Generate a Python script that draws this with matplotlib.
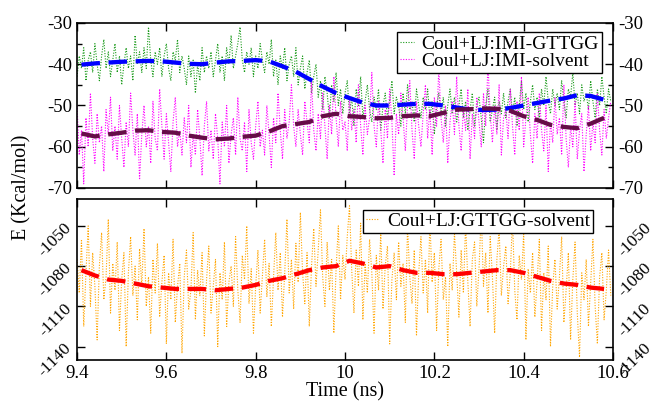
import numpy as np
import matplotlib
matplotlib.use("Agg")
import matplotlib.pyplot as plt

# ── data ───────────────────────────────────────
T0, DT = 9.40, 0.005   # raw frames, 9.400 .. 10.595 ns

imi_gttgg = [
    -43, -38, -41, -36, -44, -39, -37, -42, -35, -40, -44, -38,
    -34, -41, -37, -43, -39, -35, -42, -38, -45, -40, -36, -41,
    -38, -44, -33, -40, -37, -42, -36, -41, -31, -39, -43, -37,
    -40, -36, -43, -38, -35, -41, -44, -37, -39, -34, -42, -38,
    -41, -45, -38, -43, -39, -47, -40, -44, -36, -42, -38, -41,
    -37, -43, -39, -35, -42, -38, -44, -36, -40, -33, -41, -38,
    -35, -31, -39, -42, -37, -40, -36, -43, -38, -41, -35, -39,
    -42, -37, -40, -34, -43, -39, -45, -38, -41, -36, -44, -40,
    -38, -43, -36, -45, -41, -38, -46, -42, -39, -47, -43, -40,
    -48, -44, -51, -43, -47, -53, -45, -49, -42, -50, -46, -52,
    -47, -44, -52, -48, -55, -46, -50, -43, -53, -49, -45, -51,
    -54, -48, -51, -46, -56, -50, -47, -53, -49, -44, -52, -48,
    -50, -55, -47, -52, -45, -51, -49, -54, -46, -50, -53, -48,
    -51, -46, -53, -49, -57, -50, -47, -52, -48, -55, -50, -46,
    -52, -48, -54, -50, -46, -53, -49, -56, -51, -47, -55, -50,
    -48, -53, -59, -50, -46, -54, -51, -48, -56, -49, -52, -47,
    -53, -49, -46, -52, -48, -55, -50, -44, -51, -47, -54, -49,
    -45, -51, -48, -53, -46, -50, -43, -49, -52, -46, -50, -47,
    -51, -44, -49, -53, -46, -48, -42, -50, -47, -52, -45, -49,
    -47, -51, -44, -49, -53, -46, -50, -43, -48, -52, -46, -49]

imi_solvent = [
    -50, -62, -56, -69, -53, -60, -47, -58, -64, -52, -59, -55,
    -66, -51, -57, -48, -61, -55, -63, -50, -58, -65, -54, -60,
    -47, -56, -62, -52, -68, -57, -50, -60, -55, -64, -49, -58,
    -61, -46, -55, -63, -52, -59, -66, -54, -48, -60, -56, -62,
    -53, -59, -50, -65, -57, -62, -51, -58, -67, -55, -49, -61,
    -56, -63, -52, -58, -69, -54, -60, -50, -64, -57, -53, -62,
    -48, -58, -61, -54, -66, -51, -59, -63, -55, -49, -60, -56,
    -62, -50, -57, -65, -53, -59, -47, -56, -63, -51, -58, -54,
    -45, -55, -60, -51, -57, -62, -49, -54, -59, -44, -56, -61,
    -52, -58, -47, -55, -63, -50, -57, -43, -53, -60, -49, -56,
    -54, -61, -48, -56, -51, -59, -45, -55, -62, -50, -57, -53,
    -42, -55, -60, -49, -56, -64, -51, -58, -46, -54, -67, -52,
    -57, -47, -53, -61, -50, -44, -56, -63, -49, -55, -60, -52,
    -45, -58, -51, -62, -48, -55, -41, -53, -59, -50, -64, -54,
    -49, -57, -43, -55, -61, -51, -56, -46, -63, -52, -58, -48,
    -54, -60, -47, -55, -40, -52, -59, -50, -57, -45, -62, -53,
    -51, -58, -46, -55, -62, -49, -56, -43, -60, -53, -48, -57,
    -64, -52, -58, -47, -56, -61, -50, -66, -54, -59, -48, -57,
    -53, -62, -45, -58, -65, -55, -60, -49, -63, -56, -52, -66,
    -57, -50, -61, -54, -59, -47, -56, -62, -51, -58, -53, -49]

gttgg_solvent = [
    -1075, -1100, -1060, -1125, -1085, -1050, -1110, -1070, -1095, -1135, -1080, -1055,
    -1105, -1088, -1045, -1115, -1078, -1098, -1062, -1128, -1090, -1070, -1140, -1085,
    -1058, -1102, -1080, -1120, -1067, -1095, -1052, -1110, -1088, -1130, -1075, -1100,
    -1063, -1118, -1092, -1072, -1138, -1085, -1105, -1060, -1122, -1095, -1078, -1145,
    -1088, -1068, -1112, -1098, -1055, -1120, -1083, -1102, -1070, -1132, -1090, -1065,
    -1115, -1095, -1075, -1140, -1085, -1105, -1062, -1125, -1092, -1080, -1110, -1058,
    -1098, -1122, -1072, -1090, -1050, -1108, -1082, -1130, -1095, -1068, -1115, -1088,
    -1060, -1103, -1078, -1125, -1088, -1055, -1098, -1070, -1118, -1085, -1045, -1100,
    -1075, -1112, -1063, -1092, -1040, -1085, -1108, -1070, -1125, -1080, -1052, -1095,
    -1068, -1038, -1088, -1110, -1062, -1098, -1075, -1130, -1082, -1050, -1105, -1072,
    -1090, -1058, -1035, -1083, -1115, -1068, -1095, -1048, -1120, -1078, -1100, -1060,
    -1085, -1130, -1072, -1098, -1055, -1112, -1080, -1065, -1138, -1090, -1070, -1105,
    -1062, -1095, -1078, -1122, -1050, -1088, -1108, -1068, -1132, -1085, -1058, -1100,
    -1075, -1115, -1045, -1092, -1070, -1128, -1082, -1060, -1105, -1088, -1140, -1078,
    -1098, -1055, -1085, -1118, -1068, -1100, -1048, -1092, -1125, -1075, -1062, -1110,
    -1082, -1040, -1095, -1070, -1115, -1058, -1088, -1130, -1075, -1052, -1102, -1080,
    -1065, -1108, -1085, -1045, -1098, -1120, -1072, -1090, -1055, -1135, -1082, -1100,
    -1070, -1118, -1092, -1060, -1128, -1085, -1105, -1065, -1140, -1095, -1075, -1112,
    -1088, -1058, -1122, -1098, -1070, -1135, -1090, -1062, -1115, -1148, -1085, -1105,
    -1075, -1125, -1092, -1060, -1110, -1138, -1088, -1070, -1120, -1098, -1068, -1102]

# running averages, every 0.03 ns from 9.41
AVG_T0, AVG_DT = 9.41, 0.03
avg_imi_gttgg = [-40.1, -39.8, -39.6, -39.4, -39.3, -39.2, -39.3, -39.6, -39.9, -40.0,
                 -39.6, -39.3, -39.2, -39.0, -39.3, -40.5, -41.8, -43.6, -45.4, -47.0,
                 -48.2, -49.3, -50.0, -50.0, -49.8, -49.6, -49.6, -50.0, -50.5, -51.0,
                 -51.1, -51.0, -50.6, -50.0, -49.4, -48.8, -48.3, -47.5, -47.7, -48.6]
avg_imi_solvent = [-56.8, -57.5, -57.0, -56.6, -56.1, -56.0, -56.4, -56.6, -57.3, -57.8,
                   -58.2, -58.0, -57.6, -57.3, -56.3, -55.0, -54.5, -54.0, -52.6, -52.0,
                   -52.6, -52.8, -53.1, -53.0, -52.6, -52.4, -52.6, -51.8, -51.0, -50.9,
                   -50.7, -50.8, -51.3, -52.6, -53.5, -54.7, -55.2, -55.5, -54.4, -53.0]
avg_gttgg_solvent = [-1083, -1087, -1090, -1091, -1093, -1095, -1096, -1097, -1097, -1097,
                     -1098, -1097, -1096, -1094, -1091, -1089, -1086, -1083, -1081, -1080,
                     -1076, -1078, -1081, -1080, -1083, -1085, -1085, -1086, -1086, -1085,
                     -1084, -1083, -1083, -1085, -1088, -1091, -1093, -1094, -1096, -1097]

t = T0 + DT * np.arange(len(imi_gttgg))
t_avg = AVG_T0 + AVG_DT * np.arange(len(avg_imi_gttgg))

# ── style ──────────────────────────────────────
plt.rcParams["font.family"] = ["Liberation Serif", "DejaVu Serif"]
plt.rcParams["font.size"] = 13.5
plt.rcParams["axes.unicode_minus"] = False

DOT  = (0, (1, 1.4))
DASH = (0, (4.3, 2.0))
NOISE_LW = 0.8
AVG_LW = 3.1

fig = plt.figure(figsize=(6.55, 4.03), dpi=100)
ax1 = fig.add_axes([0.1176, 0.5335, 0.8183, 0.4095])
ax2 = fig.add_axes([0.1176, 0.1067, 0.8183, 0.3993])

# top panel
ax1.plot(t, imi_gttgg, color="#1a9a1a", ls=DOT, lw=NOISE_LW, label="Coul+LJ:IMI-GTTGG")
ax1.plot(t, imi_solvent, color="#ff00ff", ls=DOT, lw=NOISE_LW, label="Coul+LJ:IMI-solvent")
ax1.plot(t_avg, avg_imi_gttgg, color="#0000ff", ls=DASH, lw=AVG_LW)
ax1.plot(t_avg, avg_imi_solvent, color="#670d48", ls=DASH, lw=AVG_LW)
ax1.set_ylim(-70, -30)
ax1.set_yticks([-70, -60, -50, -40, -30])
ax1.set_yticks([-65, -55, -45, -35], minor=True)

# bottom panel
ax2.plot(t, gttgg_solvent, color="#ffa500", ls=DOT, lw=NOISE_LW, label="Coul+LJ:GTTGG-solvent")
ax2.plot(t_avg, avg_gttgg_solvent, color="#ff0000", ls=DASH, lw=AVG_LW)
ax2.set_ylim(-1150, -1030)
ax2.set_yticks([-1140, -1110, -1080, -1050])

for ax, anchor in ((ax1, (0.9795, 0.945)), (ax2, (0.963, 0.935))):
    ax.set_xlim(9.4, 10.6)
    ax.set_xticks([9.4, 9.6, 9.8, 10.0, 10.2, 10.4, 10.6])
    ax.tick_params(which="both", direction="in", top=True, right=True,
                   labelright=True, width=1.0, labelsize=13.5)
    ax.tick_params(which="major", length=6)
    ax.tick_params(which="minor", length=3.5)
    for s in ax.spines.values():
        s.set_linewidth(1.2)
    leg = ax.legend(loc="upper right", fontsize=14, handlelength=0.7,
                    fancybox=False, framealpha=1, borderpad=0.15,
                    labelspacing=0.0, handletextpad=0.4, borderaxespad=0,
                    bbox_to_anchor=anchor)
    leg.get_frame().set_edgecolor("black")
    leg.get_frame().set_linewidth(1.0)

ax1.tick_params(labelbottom=False)
ax2.set_xticklabels(["9.4", "9.6", "9.8", "10", "10.2", "10.4", "10.6"])
ax2.tick_params(axis="y", labelrotation=45, pad=1.5, labelsize=12.5)

ax2.set_xlabel("Time (ns)", fontsize=14.5, labelpad=0)
fig.text(0.034, 0.536, "E (Kcal/mol)", rotation=90, ha="center", va="center", fontsize=14.5)

fig.savefig("out.png", dpi=100)
